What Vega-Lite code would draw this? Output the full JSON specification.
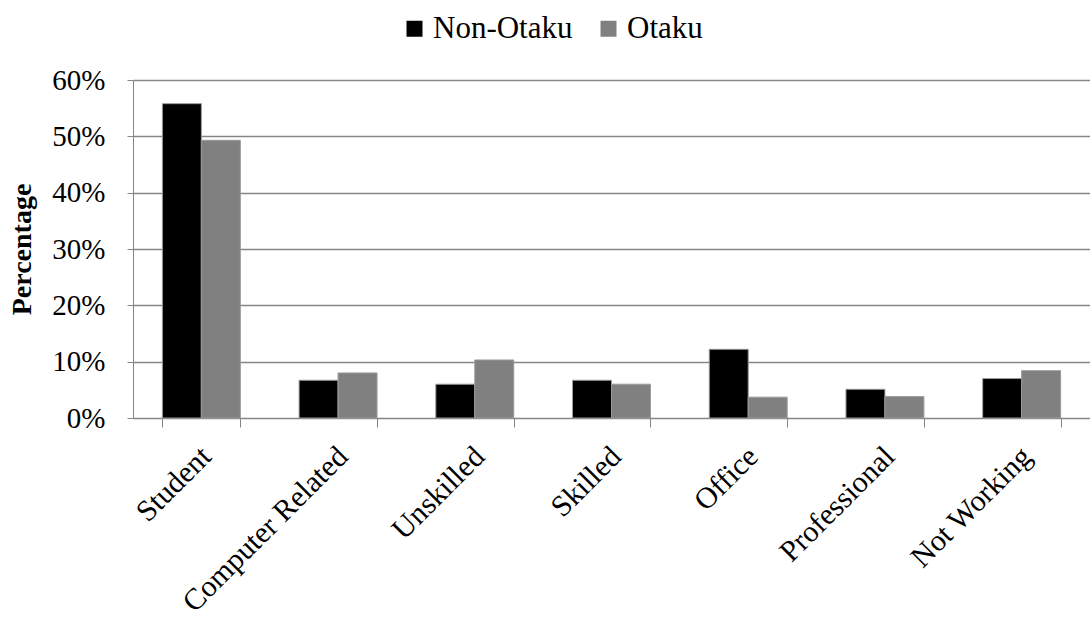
{
  "$schema": "https://vega.github.io/schema/vega-lite/v6.json",
  "autosize": {"type": "none"},
  "padding": {"left": 133, "top": 80, "right": 0, "bottom": 203},
  "width": 957,
  "height": 338,
  "background": "white",
  "config": {
    "font": "Liberation Serif",
    "view": {"stroke": null}
  },
  "data": {
    "values": [
      {"occupation": "Student", "group": "Non-Otaku", "pct": 0.558},
      {"occupation": "Student", "group": "Otaku", "pct": 0.493},
      {"occupation": "Computer Related", "group": "Non-Otaku", "pct": 0.067},
      {"occupation": "Computer Related", "group": "Otaku", "pct": 0.080},
      {"occupation": "Unskilled", "group": "Non-Otaku", "pct": 0.060},
      {"occupation": "Unskilled", "group": "Otaku", "pct": 0.103},
      {"occupation": "Skilled", "group": "Non-Otaku", "pct": 0.067},
      {"occupation": "Skilled", "group": "Otaku", "pct": 0.060},
      {"occupation": "Office", "group": "Non-Otaku", "pct": 0.122},
      {"occupation": "Office", "group": "Otaku", "pct": 0.037},
      {"occupation": "Professional", "group": "Non-Otaku", "pct": 0.051},
      {"occupation": "Professional", "group": "Otaku", "pct": 0.038},
      {"occupation": "Not Working", "group": "Non-Otaku", "pct": 0.070},
      {"occupation": "Not Working", "group": "Otaku", "pct": 0.084}
    ]
  },
  "mark": {"type": "bar", "stroke": "#9a9a9a", "strokeWidth": 1},
  "encoding": {
    "x": {
      "field": "occupation",
      "type": "nominal",
      "sort": ["Student", "Computer Related", "Unskilled", "Skilled", "Office", "Professional", "Not Working"],
      "scale": {"paddingInner": 0.43, "paddingOuter": 0.215},
      "axis": {
        "title": null,
        "labelAngle": -45,
        "labelAlign": "right",
        "labelBaseline": "top",
        "labelFontSize": 30,
        "labelColor": "black",
        "labelPadding": 14,
        "labelOffset": -6,
        "labelLimit": 0,
        "labelOverlap": false,
        "tickBand": "extent",
        "tickSize": 9,
        "tickColor": "#868686",
        "domainColor": "#868686",
        "grid": false
      }
    },
    "xOffset": {
      "field": "group",
      "type": "nominal",
      "sort": ["Non-Otaku", "Otaku"],
      "scale": {"paddingInner": 0, "paddingOuter": 0}
    },
    "y": {
      "field": "pct",
      "type": "quantitative",
      "scale": {"domain": [0, 0.6]},
      "axis": {
        "title": "Percentage",
        "titleFontSize": 28,
        "titleFontWeight": "bold",
        "titleColor": "black",
        "titlePadding": 15,
        "format": ".0%",
        "values": [0, 0.1, 0.2, 0.3, 0.4, 0.5, 0.6],
        "labelFontSize": 29,
        "labelColor": "black",
        "labelPadding": 22,
        "tickSize": 6,
        "tickColor": "#868686",
        "domainColor": "#868686",
        "gridColor": "#868686",
        "gridWidth": 1.5
      }
    },
    "color": {
      "field": "group",
      "type": "nominal",
      "sort": ["Non-Otaku", "Otaku"],
      "scale": {"domain": ["Non-Otaku", "Otaku"], "range": ["#000000", "#808080"]},
      "legend": {
        "title": null,
        "orient": "none",
        "legendX": 266,
        "legendY": -67,
        "direction": "horizontal",
        "symbolType": "square",
        "symbolSize": 256,
        "symbolStrokeWidth": 0,
        "labelFontSize": 31,
        "labelColor": "black",
        "labelOffset": 3,
        "columnPadding": 20
      }
    }
  }
}
